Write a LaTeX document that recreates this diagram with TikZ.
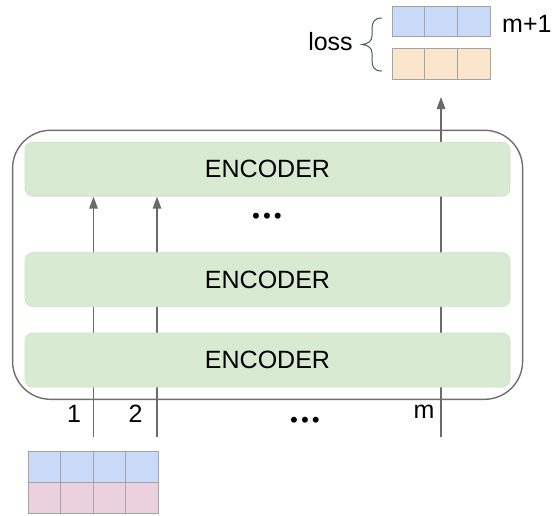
\documentclass[tikz,border=0pt]{standalone}
\usepackage{fontspec}
\setmainfont{Liberation Sans}
\newfontfamily\dotfont{DejaVu Sans}
\usetikzlibrary{arrows.meta}
\pgfdeclarelayer{background}
\pgfsetlayers{background,main}

\definecolor{encfill}{HTML}{D9EAD3}
\definecolor{encline}{HTML}{CFE2C6}
\definecolor{cellblue}{HTML}{C9DAF8}
\definecolor{cellpink}{HTML}{EAD1DC}
\definecolor{cellorange}{HTML}{FCE5CD}
\definecolor{cellline}{HTML}{A3A3A3}
\definecolor{framegray}{HTML}{6E6E6E}
\definecolor{wiregray}{HTML}{6A6A6A}
\definecolor{bracecol}{HTML}{4A5868}

\begin{document}
\begin{tikzpicture}[x=1pt,y=-1pt,
  encbox/.style={draw=encline, fill=encfill, rounded corners=8pt,
    minimum width=485pt, minimum height=54pt, inner sep=0pt,
    line width=0.8pt, font=\fontsize{25}{25}\selectfont},
  stackframe/.style={draw=framegray, line width=1.4pt, rounded corners=38pt,
    minimum width=510pt, minimum height=269pt, inner sep=0pt},
  cell/.style={draw=cellline, line width=0.9pt, minimum width=32.6pt,
    minimum height=31pt, inner sep=0pt},
  wire/.style={draw=wiregray, line width=1.3pt},
  arrowwire/.style={wire, -{Triangle[length=12pt,width=8.5pt]}},
  lbl/.style={font=\fontsize{25}{25}\selectfont, inner sep=0pt},
  dots/.style={font=\dotfont\bfseries\fontsize{17}{17}\selectfont, inner sep=0pt}
]
\useasboundingbox (0,0) rectangle (557,515);

% the stack of encoders inside its frame
\node[stackframe] (stack) at (267.6,264.8) {};
\node[encbox] (enc1) at (267.5,169.2) {ENCODER};
\node[encbox] (enc2) at (267.5,279.7) {ENCODER};
\node[encbox] (enc3) at (267.5,360) {ENCODER};
\node[dots] (vdots) at (267,218) {•••};

% input token positions
\coordinate (in1) at (93.5,437);
\coordinate (in2) at (157,437);
\coordinate (inm) at (441,437);
\node[lbl, anchor=base] (l1) at (74,422) {1};
\node[lbl, anchor=base] (l2) at (135.5,422) {2};
\node[lbl, anchor=base] (lm) at (424,418) {m};
\node[dots] (hdots) at (305,422) {•••};

% input table: two rows of four cells
\foreach \c in {0,1,2,3} {
  \node[cell, fill=cellblue] (b-1-\c) at (44.6+32.5*\c,467.2) {};
  \node[cell, fill=cellpink] (b-2-\c) at (44.6+32.5*\c,498.3) {};
}

% output tables: prediction and target
\foreach \c in {0,1,2} {
  \node[cell, fill=cellblue, minimum height=30pt] (p-\c) at (408.3+32.7*\c,21) {};
  \node[cell, fill=cellorange] (t-\c) at (408.3+32.7*\c,63.5) {};
}
\coordinate (outtip) at (441,97);

\node[lbl, anchor=base west] (mp1) at (502,32) {m+1};
\node[lbl, anchor=base] (loss) at (330.5,50) {loss};

% brace pairing the two output rows
\draw[bracecol, line width=1pt]
  (382,18) .. controls (374,18) and (372,22) .. (372,30)
  -- (372,36) .. controls (372,41) and (368,44) .. (362,44.5)
  .. controls (368,45) and (372,48) .. (372,53)
  -- (372,60) .. controls (372,67) and (374,71) .. (382,71);

% connectors behind the encoder boxes
\begin{pgfonlayer}{background}
  \draw[arrowwire] (in1) -- (in1 |- enc1.south);
  \draw[arrowwire] (in2) -- (in2 |- enc1.south);
  \draw[arrowwire] (inm) -- (outtip);
\end{pgfonlayer}
\end{tikzpicture}
\end{document}
